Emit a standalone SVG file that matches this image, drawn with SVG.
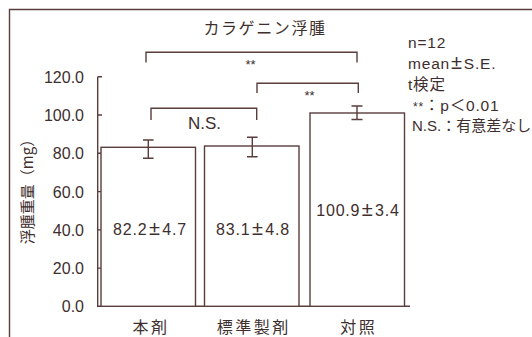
<svg xmlns="http://www.w3.org/2000/svg" width="532" height="337" viewBox="0 0 532 337">
<style>
.ln{fill:none;stroke:#5a3d3d;stroke-width:1.4}
.bar{fill:#ffffff;stroke:#5a3d3d;stroke-width:1.4}
text{fill:#3e2e2e;font-family:"Liberation Sans","Noto Sans CJK JP",sans-serif}
.tk{font-size:16px;text-anchor:end}
.val{font-size:16px;text-anchor:middle;letter-spacing:0.8px}
.pm{font-size:20px}
.cat{font-size:16px;text-anchor:middle;letter-spacing:2.5px;font-family:"Noto Sans CJK JP",sans-serif}
.lg{font-size:15.5px;letter-spacing:0.8px}
.st{font-size:13px;text-anchor:middle}
</style>
<rect width="532" height="337" fill="#ffffff"/>
<g id="frame"><path class="ln" d="M9.5,340 V9.5 H540"/></g>
<g id="title"><text x="265" y="34" font-size="16" text-anchor="middle" letter-spacing="1.6" style="font-family:'Noto Sans CJK JP',sans-serif">カラゲニン浮腫</text></g>
<g id="y-axis">
<path class="ln" d="M97.7,76.7 V306.3 H410 M97.7,76.7 H102 M97.7,115 H102 M97.7,153.3 H102 M97.7,191.6 H102 M97.7,229.9 H102 M97.7,268.1 H102"/>
<text class="tk" x="84" y="83">120.0</text>
<text class="tk" x="84" y="121">100.0</text>
<text class="tk" x="84" y="159.3">80.0</text>
<text class="tk" x="84" y="197.6">60.0</text>
<text class="tk" x="84" y="235.9">40.0</text>
<text class="tk" x="84" y="274.1">20.0</text>
<text class="tk" x="84" y="312.3">0.0</text>
<text transform="translate(33,188) rotate(-90)" font-size="15" text-anchor="middle" style="font-family:'Noto Sans CJK JP',sans-serif">浮腫重量（mg）</text>
</g>
<g id="bar-honzai">
<rect class="bar" x="101" y="147.3" width="94.5" height="159"/>
<path class="ln" d="M148.3,140 V158.3 M143,140 H153.6 M143,158.3 H153.6"/>
<text class="val" x="150" y="235">82.2<tspan class="pm" dx="1.5">±</tspan><tspan dx="1.5">4.7</tspan></text>
<text class="cat" x="151" y="333">本剤</text>
</g>
<g id="bar-hyojun">
<rect class="bar" x="204.5" y="146" width="94.5" height="160.3"/>
<path class="ln" d="M252.3,137.3 V156.7 M247,137.3 H257.6 M247,156.7 H257.6"/>
<text class="val" x="253" y="235">83.1<tspan class="pm" dx="1.5">±</tspan><tspan dx="1.5">4.8</tspan></text>
<text class="cat" x="253.7" y="333">標準製剤</text>
</g>
<g id="bar-taisho">
<rect class="bar" x="310" y="113" width="94.5" height="193.3"/>
<path class="ln" d="M357,106 V119.5 M351.5,106 H362.5 M351.5,119.5 H362.5"/>
<text class="val" x="358" y="216">100.9<tspan class="pm" dx="1.5">±</tspan><tspan dx="1.5">3.4</tspan></text>
<text class="cat" x="358.7" y="333">対照</text>
</g>
<g id="connectors">
<path class="ln" d="M146,62.5 V52.3 H357 V62.5"/>
<path class="ln" d="M257,93 V83.3 H358.3 V93"/>
<path class="ln" d="M151,120 V108.3 H256.7 V120"/>
</g>
<g id="labels">
<text class="st" x="250.5" y="69">**</text>
<text class="st" x="309.5" y="100">**</text>
<text x="204.5" y="129" font-size="17" text-anchor="middle">N.S.</text>
</g>
<g id="legend">
<text class="lg" x="408" y="48">n=12</text>
<text class="lg" x="408" y="69">mean<tspan class="pm" dx="1">±</tspan><tspan dx="1">S.E.</tspan></text>
<text class="lg" x="408" y="90">t検定</text>
<text class="lg" x="413" y="111"><tspan font-size="12">**</tspan>：p＜0.01</text>
<text x="412" y="131" font-size="15">N.S.：有意差なし</text>
</g>
</svg>
